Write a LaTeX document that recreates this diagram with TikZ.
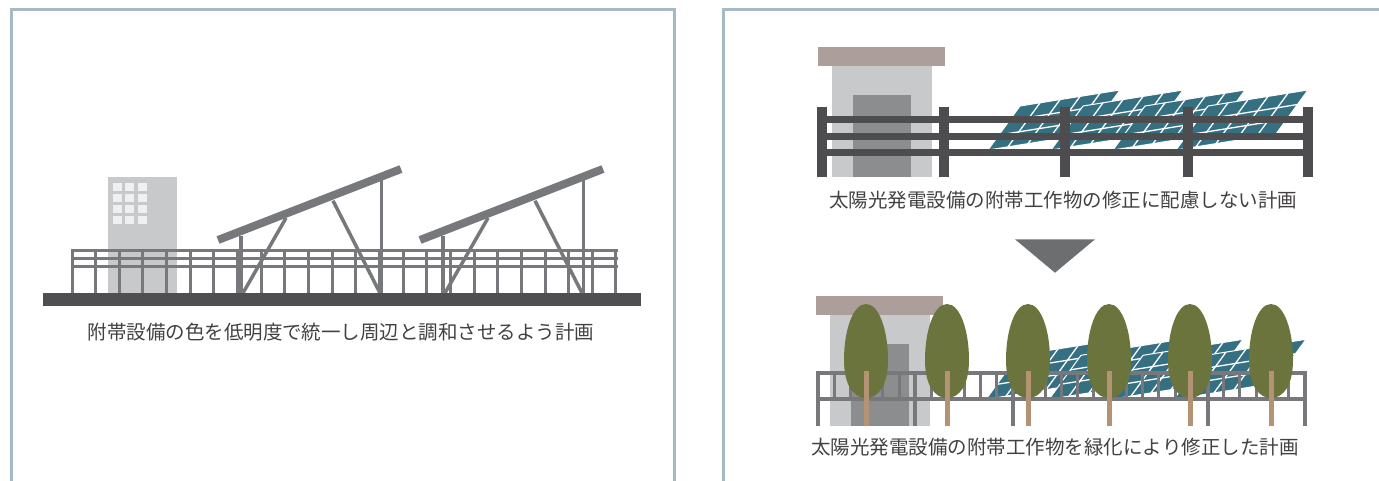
\documentclass[tikz,border=0pt]{standalone}
\usepackage{fontspec}
\newfontfamily\jpfont{Noto Sans CJK JP}
\usetikzlibrary{calc}

\definecolor{framecol}{RGB}{164,187,195}
\definecolor{groundcol}{RGB}{79,79,81}
\definecolor{steelcol}{RGB}{119,120,123}
\definecolor{wallcol}{RGB}{200,201,203}
\definecolor{windowcol}{RGB}{239,240,242}
\definecolor{roofcol}{RGB}{171,158,155}
\definecolor{doorcol}{RGB}{140,141,143}
\definecolor{railcol}{RGB}{77,77,79}
\definecolor{panelcol}{RGB}{53,112,130}
\definecolor{leafcol}{RGB}{107,116,61}
\definecolor{trunkcol}{RGB}{180,147,116}
\definecolor{markcol}{RGB}{109,110,112}
\definecolor{textcol}{RGB}{66,64,64}

\tikzset{
   frame/.style   = {draw=framecol, line width=2.8pt},
   post/.style    = {draw=steelcol, line width=3pt},
   beam/.style    = {draw=steelcol, line width=8pt},
   strut/.style   = {draw=steelcol, line width=3.5pt},
   cell/.style    = {draw=white, line width=1.3pt},
   caption/.style = {font=\jpfont\fontsize{19.5}{23}\selectfont, text=textcol, inner sep=0pt},
}

% one tilted row of solar modules, top right corner at the origin
\newcommand\panelrow{%
   \fill[panelcol, draw=white, line width=1pt] (0,0) -- (-100,16) -- (-132,60) -- (-32,44) -- cycle;
   \foreach \t in {0.33,0.66}
      \draw[cell] ({-100-32*\t},{16+44*\t}) -- ({-32*\t},{44*\t});
   \foreach \s in {0.2,0.4,0.6,0.8}
      \draw[cell] ({-100*\s},{16*\s}) -- ({-100*\s-32},{16*\s+44});
}

% small building with roof and door
\newcommand\shed{%
   \fill[roofcol] (818,46.7) rectangle (945,65.7);
   \fill[wallcol] (831.7,65.7) rectangle (932.3,176.7);
   \fill[doorcol] (852.7,95) rectangle (911,176.7);
}

\begin{document}
\begin{tikzpicture}[x=1pt, y=-1pt]

   \useasboundingbox (0,0) rectangle (1379,480);

   % panel frames
   \draw[frame] (11.3,482) -- (11.3,9.7) -- (674.5,9.7) -- (674.5,482);
   \draw[frame] (723.5,482) -- (723.5,9.7) -- (1382,9.7);

   %% left: low-brightness fence and racks
   \fill[wallcol] (108,177) rectangle (177,293);
   \foreach \c in {0,1,2}
      \foreach \r in {0,...,3}
         \fill[windowcol] ({113+12.3*\c},{182.7+11.2*\r}) rectangle ++(9,8);

   \foreach \y in {250.5,258.3,266.7}
      \draw[post] (70.5,\y) -- (617.5,\y);
   \foreach \k in {0,...,23}
      \draw[post] ({72+23.65*\k},249) -- ({72+23.65*\k},293);

   \foreach \dx in {0,202} {
      \begin{scope}[shift={(\dx,0)}]
         \draw[beam]  (218,240)   -- (401,169);
         \draw[strut] (241,236)   -- (241,293);
         \draw[strut] (243,293)   -- (286,218);
         \draw[strut] (333,200.7) -- (380,293);
         \draw[strut] (381.7,177) -- (381.7,293);
      \end{scope}
   }

   \fill[groundcol] (43,293) rectangle (641,305.5);

   \node[caption] (capLeft) at (341,332)
      {附帯設備の色を低明度で統一し周辺と調和させるよう計画};

   %% right top: fence left as it is
   \foreach \px in {1120,1183,1245,1308} {
      \begin{scope}[shift={(\px,90)}]
         \panelrow
      \end{scope}
   }
   \shed
   \foreach \y in {116,132.8,148.7}
      \fill[railcol] (817,\y) rectangle (1313,{\y+7.2});
   \foreach \px in {822,944,1065,1188,1308}
      \fill[railcol] ({\px-5},106.7) rectangle ({\px+5},176.7);

   \node[caption] (capTop) at (1063,200)
      {太陽光発電設備の附帯工作物の修正に配慮しない計画};

   \fill[markcol] (1015,239.3) -- (1095,239.3) -- (1055,272.7) -- cycle;

   %% right bottom: fence screened with trees
   \begin{scope}[shift={(-2,249.3)}]
      \foreach \px in {1120,1183,1245,1308} {
         \begin{scope}[shift={(\px,90)}]
            \panelrow
         \end{scope}
      }
      \shed
   \end{scope}

   \draw[post, line width=4pt] (816,372.8) -- (1307,372.8);
   \draw[post, line width=4pt] (816,398.8) -- (1307,398.8);
   \foreach \k in {0,...,30}
      \draw[post] ({818+16.23*\k},371) -- ({818+16.23*\k},401);
   \foreach \k in {0,...,5}
      \draw[post, line width=4pt] ({818+97.4*\k},371) -- ({818+97.4*\k},426);

   \foreach \cx in {866,947,1028,1109,1190,1271} {
      \begin{scope}[shift={(\cx,0)}]
         \fill[leafcol] (0,398) .. controls (12,398) and (22,386) .. (22,360)
            .. controls (22,330) and (13,304) .. (0,304)
            .. controls (-13,304) and (-22,330) .. (-22,360)
            .. controls (-22,386) and (-12,398) .. (0,398) -- cycle;
         \fill[trunkcol] (-2.5,371) rectangle (2.5,426);
      \end{scope}
   }

   \node[caption] (capBottom) at (1055,447)
      {太陽光発電設備の附帯工作物を緑化により修正した計画};

\end{tikzpicture}
\end{document}
